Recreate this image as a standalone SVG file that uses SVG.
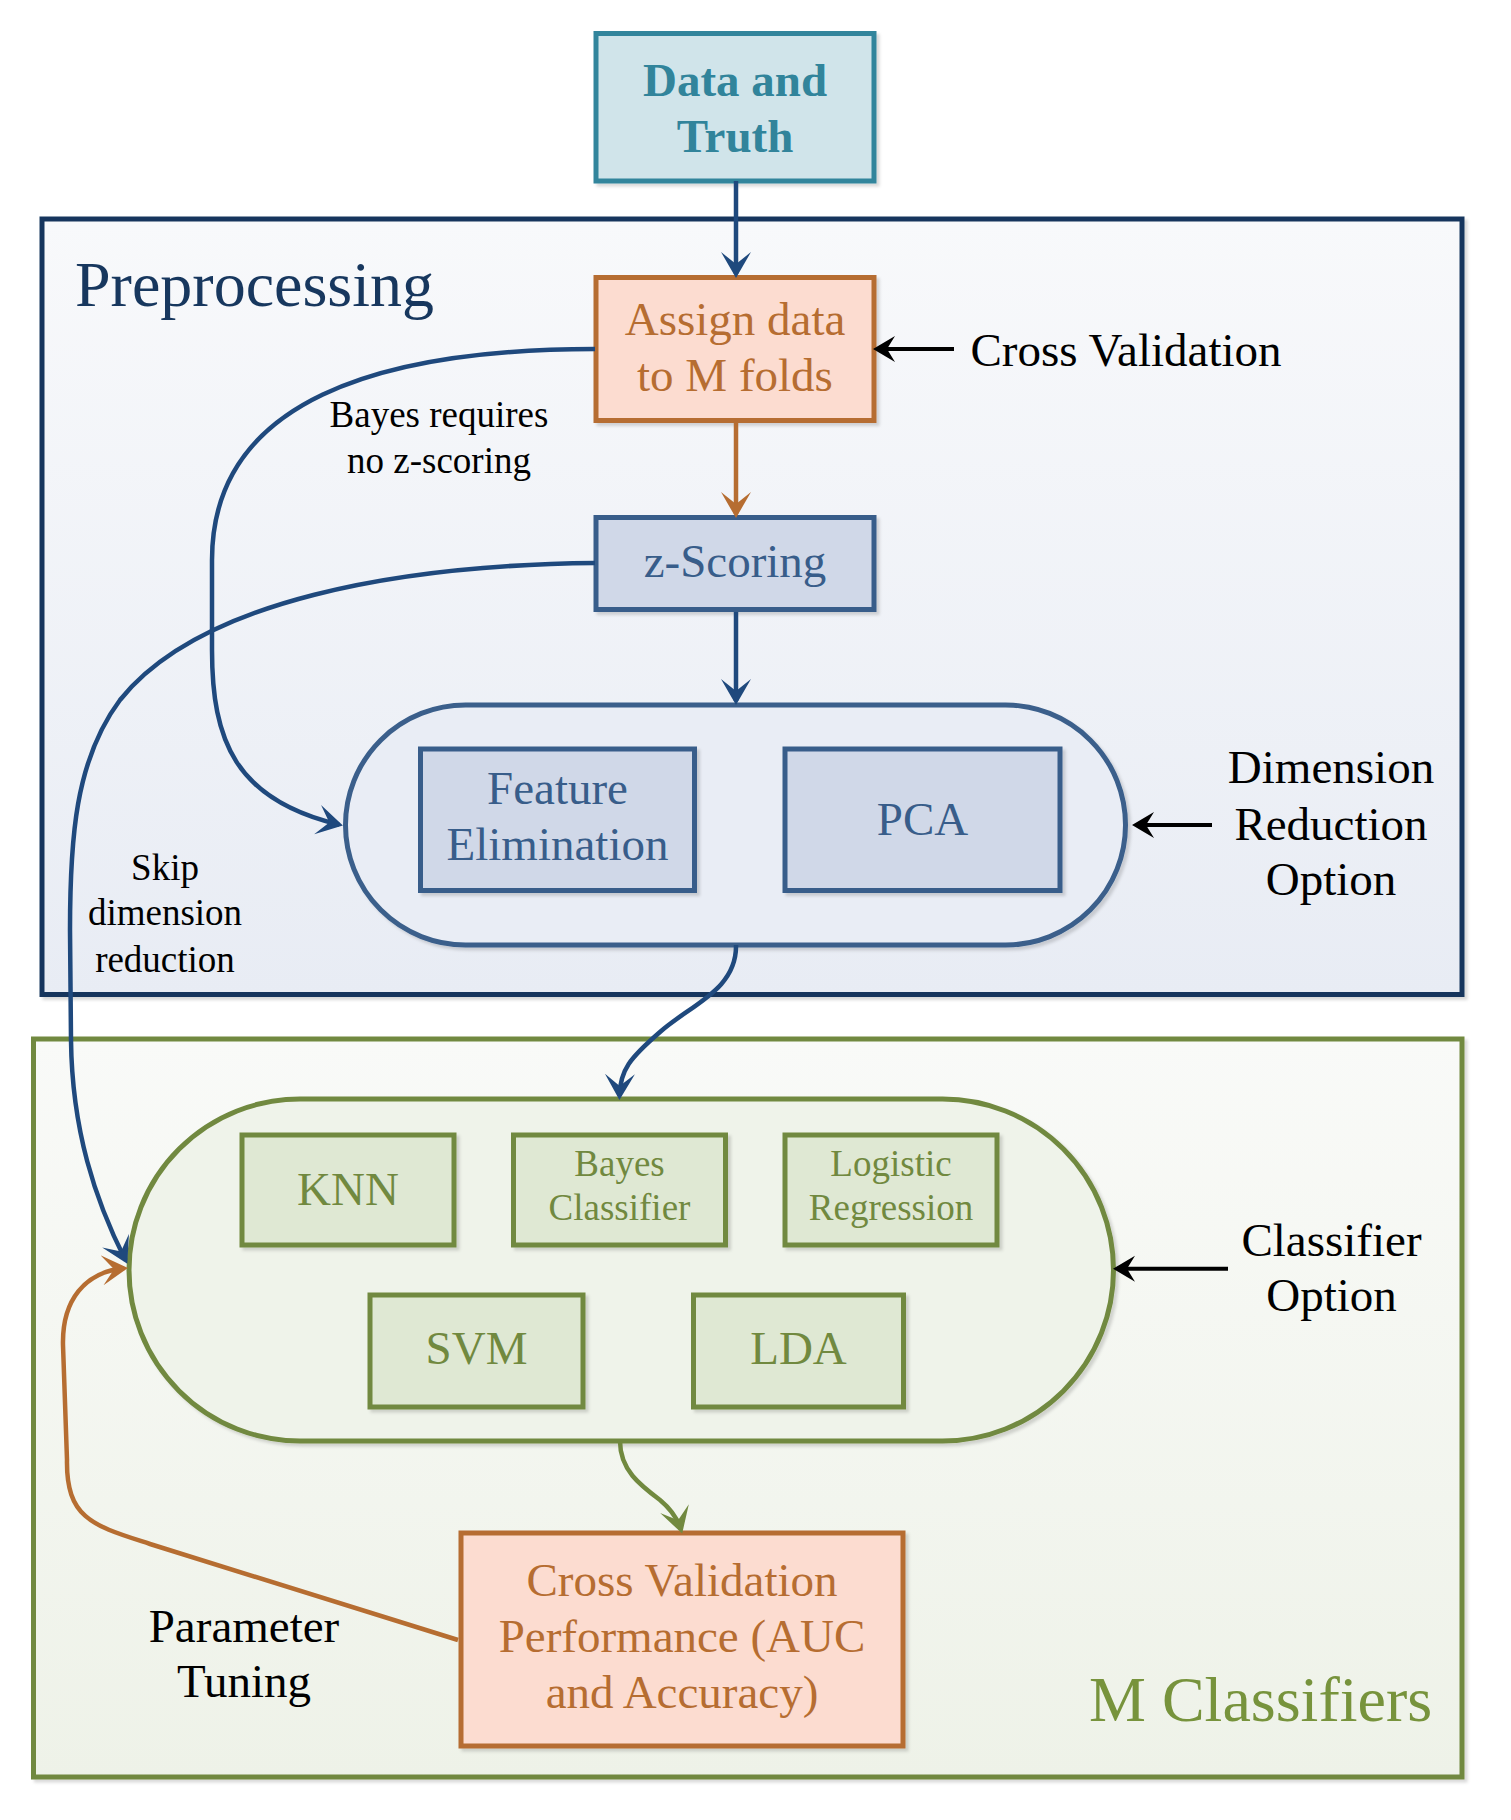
<svg xmlns="http://www.w3.org/2000/svg" width="1511" height="1820" viewBox="0 0 1511 1820">
<defs>
<style>
text{font-family:"Liberation Serif","Times New Roman",serif;text-anchor:middle}
.t47{font-size:47px}
.t37{font-size:37px}
.t64{font-size:64px;text-anchor:start}
.blk{fill:#000}
.nb{fill:#d0d8e8;stroke:#385d8a;stroke-width:5}
.ng{fill:#dfe8d3;stroke:#71893f;stroke-width:5}
.no{fill:#fcdcd0;stroke:#b66d31;stroke-width:5}
.tb{fill:#385d8a}
.tg{fill:#71893f}
.to{fill:#b66d31}
.cb{fill:none;stroke:#1f497d;stroke-width:4.5}
.co{fill:none;stroke:#b66d31;stroke-width:4.5}
.cg{fill:none;stroke:#71893f;stroke-width:4.5}
.ck{fill:none;stroke:#000;stroke-width:4}
</style>
<linearGradient id="gp" x1="0" y1="0" x2="0" y2="1"><stop offset="0" stop-color="#f8f9fb"/><stop offset="1" stop-color="#e8ecf4"/></linearGradient>
<linearGradient id="gm" x1="0" y1="0" x2="0" y2="1"><stop offset="0" stop-color="#f9faf8"/><stop offset="1" stop-color="#eef2e8"/></linearGradient>
<filter id="sh" x="-5%" y="-5%" width="115%" height="115%"><feDropShadow dx="3" dy="3" stdDeviation="1.5" flood-color="#000" flood-opacity="0.15"/></filter>
<marker id="ab" markerUnits="userSpaceOnUse" markerWidth="30" markerHeight="32" refX="22" refY="16" orient="auto"><path d="M0,1 L26,16 L0,31 L12,16 Z" fill="#1f497d"/></marker>
<marker id="ao" markerUnits="userSpaceOnUse" markerWidth="30" markerHeight="32" refX="22" refY="16" orient="auto"><path d="M0,1 L26,16 L0,31 L12,16 Z" fill="#b66d31"/></marker>
<marker id="ag" markerUnits="userSpaceOnUse" markerWidth="30" markerHeight="32" refX="22" refY="16" orient="auto"><path d="M0,1 L26,16 L0,31 L12,16 Z" fill="#71893f"/></marker>
<marker id="ak" markerUnits="userSpaceOnUse" markerWidth="26" markerHeight="28" refX="18" refY="14" orient="auto"><path d="M0,1 L22,14 L0,27 L8,14 Z" fill="#000"/></marker>
</defs>

<g id="group-preprocessing">
<rect x="42" y="219" width="1420" height="775.5" fill="url(#gp)" stroke="#17365d" stroke-width="5" filter="url(#sh)"/>
<text x="75" y="306" class="t64" fill="#17375e">Preprocessing</text>
</g>
<g id="group-mclassifiers">
<rect x="33.5" y="1039" width="1428.5" height="738" fill="url(#gm)" stroke="#71893f" stroke-width="5" filter="url(#sh)"/>
<text x="1089" y="1721" class="t64" fill="#77933c">M Classifiers</text>
</g>

<g id="node-data">
<rect x="596" y="181" width="278" height="0" fill="none"/>
<rect x="596" y="33.5" width="278" height="147.5" fill="#d0e4ea" stroke="#31859c" stroke-width="5" filter="url(#sh)"/>
<text x="735" y="95.5" class="t47" font-weight="bold" fill="#31849b">Data and</text>
<text x="735" y="152" class="t47" font-weight="bold" fill="#31849b">Truth</text>
</g>
<g id="node-assign">
<rect x="596" y="277.5" width="278" height="143" class="no" filter="url(#sh)"/>
<text x="735" y="335" class="t47 to">Assign data</text>
<text x="735" y="391" class="t47 to">to M folds</text>
</g>
<g id="node-zscoring">
<rect x="596" y="517.5" width="278" height="92" class="nb" filter="url(#sh)"/>
<text x="735" y="577" class="t47 tb">z-Scoring</text>
</g>
<g id="node-dimred">
<rect x="345.5" y="705" width="780" height="240" rx="120" ry="120" fill="#e9edf5" stroke="#3a5f8b" stroke-width="5" filter="url(#sh)"/>
</g>
<g id="node-feature">
<rect x="420.5" y="749" width="274" height="141.5" class="nb" filter="url(#sh)"/>
<text x="557.5" y="804" class="t47 tb">Feature</text>
<text x="557.5" y="860" class="t47 tb">Elimination</text>
</g>
<g id="node-pca">
<rect x="785" y="749" width="275" height="141.5" class="nb" filter="url(#sh)"/>
<text x="922.5" y="835" class="t47 tb">PCA</text>
</g>
<g id="node-classifiers">
<rect x="129" y="1099" width="984.5" height="342" rx="171" ry="171" fill="#eff3ea" stroke="#71893f" stroke-width="5" filter="url(#sh)"/>
</g>
<g id="node-knn">
<rect x="242" y="1135" width="212" height="110" class="ng" filter="url(#sh)"/>
<text x="348" y="1205" class="t47 tg">KNN</text>
</g>
<g id="node-bayes">
<rect x="513.5" y="1135" width="212" height="110" class="ng" filter="url(#sh)"/>
<text x="619.5" y="1176" class="t37 tg">Bayes</text>
<text x="619.5" y="1220" class="t37 tg">Classifier</text>
</g>
<g id="node-logistic">
<rect x="785" y="1135" width="212" height="110" class="ng" filter="url(#sh)"/>
<text x="891" y="1176" class="t37 tg">Logistic</text>
<text x="891" y="1220" class="t37 tg">Regression</text>
</g>
<g id="node-svm">
<rect x="370" y="1295" width="213" height="112" class="ng" filter="url(#sh)"/>
<text x="476.5" y="1364" class="t47 tg">SVM</text>
</g>
<g id="node-lda">
<rect x="693.5" y="1295" width="210" height="112" class="ng" filter="url(#sh)"/>
<text x="798.5" y="1364" class="t47 tg">LDA</text>
</g>
<g id="node-cvperf">
<rect x="461" y="1533" width="442" height="213" class="no" filter="url(#sh)"/>
<text x="682" y="1596" class="t47 to">Cross Validation</text>
<text x="682" y="1651.5" class="t47 to">Performance (AUC</text>
<text x="682" y="1707.5" class="t47 to">and Accuracy)</text>
</g>

<g id="labels">
<text x="1126" y="366" class="t47 blk">Cross Validation</text>
<text x="439" y="427" class="t37 blk" font-size="36px">Bayes requires</text>
<text x="439" y="473" class="t37 blk" font-size="36px">no z-scoring</text>
<text x="1331" y="783" class="t47 blk">Dimension</text>
<text x="1331" y="839.5" class="t47 blk">Reduction</text>
<text x="1331" y="895" class="t47 blk">Option</text>
<text x="165" y="880" class="t37 blk">Skip</text>
<text x="165" y="925" class="t37 blk">dimension</text>
<text x="165" y="971.5" class="t37 blk">reduction</text>
<text x="1331.5" y="1256" class="t47 blk">Classifier</text>
<text x="1331.5" y="1311" class="t47 blk">Option</text>
<text x="244" y="1642" class="t47 blk">Parameter</text>
<text x="244" y="1697" class="t47 blk">Tuning</text>
</g>

<g id="connectors">
<path class="cb" d="M736,181 L736,274" marker-end="url(#ab)"/>
<path class="co" d="M736,423 L736,514" marker-end="url(#ao)"/>
<path class="cb" d="M736,612 L736,701" marker-end="url(#ab)"/>
<path class="cb" d="M736,945 C737,990 690,1005 660,1032 C630,1058 620,1070 619.5,1096" marker-end="url(#ab)"/>
<path class="cg" d="M620,1441 C620,1470 640,1485 660,1500 C672,1510 678,1520 681,1529.7" marker-end="url(#ag)"/>
<path class="cb" d="M595,349 C380,349 212,400 212,560 L212,650 C212,740 235,800 339,824.7" marker-end="url(#ab)"/>
<path class="cb" d="M595,563 C400,565 200,600 120,700 C75,760 70,840 70,930 L71,1040 C72,1130 95,1200 125.5,1260.3" marker-end="url(#ab)"/>
<path class="co" d="M458,1640 L150,1544 C95,1526 66,1520 67,1460 L63,1345 C62,1300 85,1272 124,1268.3" marker-end="url(#ao)"/>
<path class="ck" d="M954,349 L877,349" marker-end="url(#ak)"/>
<path class="ck" d="M1212,825 L1136,825" marker-end="url(#ak)"/>
<path class="ck" d="M1228,1268.7 L1117,1268.7" marker-end="url(#ak)"/>
</g>
</svg>
